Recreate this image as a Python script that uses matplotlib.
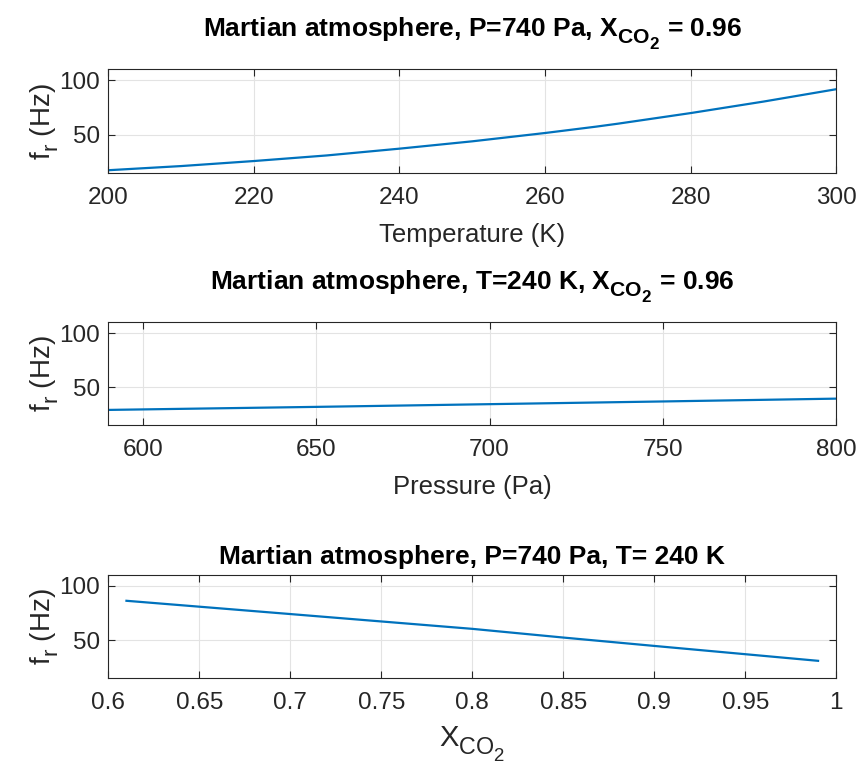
import matplotlib
matplotlib.use('Agg')
import matplotlib.pyplot as plt
from matplotlib import _mathtext
from matplotlib.ticker import FuncFormatter

# Arial-metric font, like the MATLAB export
FONT = ['Liberation Sans', 'DejaVu Sans']
plt.rcParams['font.family'] = FONT
plt.rcParams['mathtext.fontset'] = 'custom'
plt.rcParams['mathtext.rm'] = FONT[0]
plt.rcParams['mathtext.it'] = FONT[0]
plt.rcParams['mathtext.bf'] = FONT[0] + ':bold'

# MATLAB-style subscripts: bigger and lower than mathtext's default
_mathtext.SHRINK_FACTOR = 0.8
_mathtext.FontConstantsBase.sub1 = 0.55
_mathtext.FontConstantsBase.subdrop = 0.6

# data
temp_k = [200, 210, 220, 230, 240, 250, 260, 267, 270, 280, 290, 300]
fr_temp = [17.8, 21.6, 26.2, 31.3, 37.5, 44.2, 51.8, 57.6, 60.3, 70.0, 80.5, 91.8]

pressure_pa = [590, 650, 700, 750, 800]
fr_pressure = [29.2, 32.0, 34.5, 37.0, 39.6]

x_co2 = [0.61, 0.70, 0.80, 0.85, 0.90, 0.99]
fr_co2 = [86.3, 74.1, 60.5, 52.5, 44.8, 31.1]

temp_ticks = [200, 220, 240, 260, 280, 300]
pressure_ticks = [600, 650, 700, 750, 800]
co2_ticks = [0.6, 0.65, 0.7, 0.75, 0.8, 0.85, 0.9, 0.95, 1.0]
y_ticks = [50, 100]

LINE = '#0072BD'
DARK = '#262626'

fig = plt.figure(figsize=(8.64, 7.74), dpi=100)

positions = [
    [0.1253, 0.7761, 0.8426, 0.1344],
    [0.1253, 0.4505, 0.8426, 0.1331],
    [0.1253, 0.1236, 0.8426, 0.1335],
]

panels = [
    (temp_k, fr_temp, (200, 300), temp_ticks, 'Temperature (K)',
     r'Martian atmosphere, P=740 Pa, X$_{\mathbf{CO_2}}$ = 0.96'),
    (pressure_pa, fr_pressure, (590, 800), pressure_ticks, 'Pressure (Pa)',
     r'Martian atmosphere, T=240 K, X$_{\mathbf{CO_2}}$ = 0.96'),
    (x_co2, fr_co2, (0.6, 1.0), co2_ticks, r'X$_{\mathrm{CO_2}}$',
     'Martian atmosphere, P=740 Pa, T= 240 K'),
]

for i, (pos, (x, y, xlim, xticks, xlabel, title)) in enumerate(zip(positions, panels)):
    ax = fig.add_axes(pos)
    ax.plot(x, y, color=LINE, lw=1.6)
    ax.set_xlim(*xlim)
    ax.set_ylim(15, 110)
    ax.set_xticks(xticks)
    ax.set_yticks(y_ticks)
    if i == 2:
        ax.xaxis.set_major_formatter(FuncFormatter(lambda v, p: f'{v:g}'))
    ax.grid(True, color='#e3e3e3', lw=0.8)
    ax.set_axisbelow(True)
    ax.tick_params(direction='in', length=5, width=0.8, colors=DARK,
                   labelsize=17.5, top=True, right=True)
    ax.tick_params(axis='x', pad=10)
    ax.tick_params(axis='y', pad=6)
    for s in ax.spines.values():
        s.set_color(DARK)
        s.set_linewidth(0.8)
    ax.set_ylabel(r'f$_\mathrm{r}$ (Hz)', fontsize=20, color=DARK, labelpad=-1)
    ax.set_xlabel(xlabel, fontsize=18.5 if i < 2 else 21, color=DARK,
                  labelpad=10 if i < 2 else 7)
    ax.set_title(title, fontsize=19, fontweight='bold', pad=24 if i < 2 else 8)

fig.savefig('out.png', dpi=100)
